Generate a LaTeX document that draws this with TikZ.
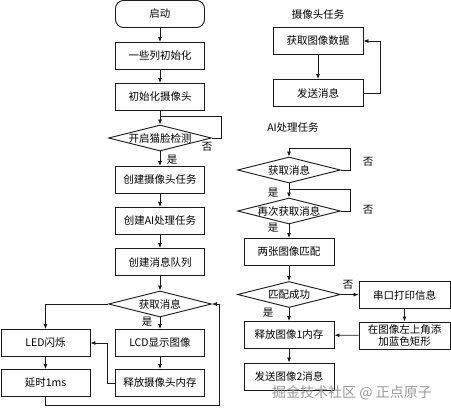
\documentclass[tikz,border=0pt]{standalone}
\usepackage{fontspec}
\setmainfont{Noto Sans CJK SC}
\usetikzlibrary{arrows.meta,positioning,calc,shapes.geometric}
\definecolor{Ink}{HTML}{1A1A1A}
\definecolor{Mark}{HTML}{9A9A9A}
\tikzset{
 block/.style={draw=Ink, line width=0.9pt, fill=white, minimum width=89pt, minimum height=27pt, inner sep=1pt, align=center, font=\fontsize{10.5}{12}\selectfont},
 startblock/.style={block, rounded corners=8pt},
 wideblock/.style={block, minimum width=90pt},
 decision/.style={draw=Ink, line width=0.9pt, diamond, minimum width=103pt, minimum height=26pt, inner sep=0pt},
 tag/.style={font=\fontsize{10.5}{12}\selectfont, inner sep=0pt},
 arrow/.style={-{Latex[length=5pt,width=4pt]}, line width=0.8pt, draw=Ink},
 plain/.style={line width=0.8pt, draw=Ink}
}

\begin{document}
\begin{tikzpicture}[x=1pt,y=-1pt]
\useasboundingbox[fill=white] (0,0) rectangle (451,413);

% main flow
\node[startblock] (start) at (160,14) {启动};
\node[block] (init) at (160,56) {一些列初始化};
\node[block] (initcam) at (160,97) {初始化摄像头};
\node[decision, label={[tag]center:开启猫脸检测}] (face) at (160,138) {};
\node[block] (camtask) at (160,180) {创建摄像头任务};
\node[block] (aitask) at (160,221) {创建AI处理任务};
\node[block] (queue) at (160,262) {创建消息队列};
\node[decision, label={[tag]center:获取消息}] (getmsg) at (160,304) {};
\node[block] (lcd) at (160,343) {LCD显示图像};
\node[block] (freecam) at (160,383) {释放摄像头内存};
\node[block] (led) at (45.5,343) {LED闪烁};
\node[block] (delay) at (45.5,383) {延时1ms};

\node[tag] (faceno) at (207,147) {否};
\node[tag] (faceyes) at (172,160) {是};
\node[tag] (getyes) at (147,322) {是};

\coordinate (faceloop) at (160,116);
\coordinate (back) at (219,405);

\draw[arrow] (start) -- (init);
\draw[arrow] (init) -- (initcam);
\draw[arrow] (initcam) -- (face.north);
\draw[plain] (face.east) -- ++(9,0) |- (faceloop);
\draw[arrow] (face.south) -- (camtask);
\draw[arrow] (camtask) -- (aitask);
\draw[arrow] (aitask) -- (queue);
\draw[arrow] (queue) -- (getmsg.north);
\draw[arrow] (getmsg.south) -- (lcd);
\draw[arrow] (lcd) -- (freecam);
\draw[arrow] (getmsg.west) -| (led.north);
\draw[arrow] (led) -- (delay);
\draw[arrow] (freecam.west) -- ++(-8,0) |- (led.east);
\draw[arrow] (delay.south) |- (back) |- (getmsg.east);

% camera task
\node[tag] (camtitle) at (318,15) {摄像头任务};
\node[wideblock] (grab) at (318,41) {获取图像数据};
\node[wideblock] (send) at (318,93) {发送消息};
\draw[arrow] (grab) -- (send);
\draw[arrow] (send.east) -- ++(17,0) |- (grab.east);

% AI task
\node[tag] (aititle) at (293,128) {AI处理任务};
\node[decision, label={[tag]center:获取消息}] (aiget) at (289,170) {};
\node[decision, label={[tag]center:再次获取消息}] (aiagain) at (289,211) {};
\node[wideblock] (match) at (289,252) {两张图像匹配};
\node[decision, label={[tag]center:匹配成功}] (ok) at (289,294.5) {};
\node[wideblock] (free1) at (289,335) {释放图像1内存};
\node[wideblock] (send2) at (289,376.5) {发送图像2消息};
\node[block, minimum width=91pt] (serial) at (404.5,295) {串口打印信息};
\node[block, minimum width=91pt] (blue) at (404.5,335.5) {在图像左上角添\\加蓝色矩形};

\node[tag] (getno) at (368,162) {否};
\node[tag] (againno) at (368,210) {否};
\node[tag] (getok) at (273,193) {是};
\node[tag] (againok) at (273,228) {是};
\node[tag] (okno) at (348,285) {否};
\node[tag] (okyes) at (268,313) {是};

\coordinate (getloop) at (289,148);
\coordinate (againloop) at (289,189);

\draw[arrow] (aiget.east) -- ++(9,0) |- (getloop) -- (aiget.north);
\draw[arrow] (aiget.south) -- (aiagain.north);
\draw[plain] (aiagain.east) -- ++(9,0) |- (againloop);
\draw[arrow] (aiagain.south) -- (match);
\draw[arrow] (match) -- (ok.north);
\draw[arrow] (ok.east) -- (serial);
\draw[arrow] (ok.south) -- (free1);
\draw[arrow] (serial) -- (blue);
\draw[arrow] (blue) -- (free1);
\draw[arrow] (free1) -- (send2);

\node[text=Mark, font=\fontsize{14}{16}\selectfont] (mark) at (352,393) {掘金技术社区 @ 正点原子};
\end{tikzpicture}
\end{document}
